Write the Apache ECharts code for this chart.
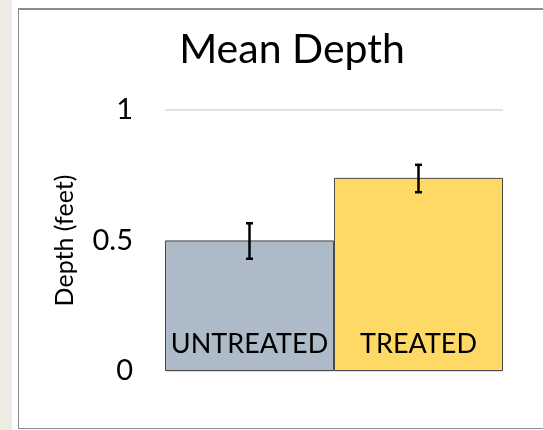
<!DOCTYPE html>
<html>
<head>
<meta charset="utf-8">
<script src="https://cdn.jsdelivr.net/npm/echarts@6/dist/echarts.min.js"></script>
<style>
  html, body { margin: 0; padding: 0; background: #fff; overflow: hidden; width: 543px; height: 430px; }
  .strip { position: absolute; left: 0; top: 0; width: 12px; height: 430px; background: #eeebe4; }
  .frame { position: absolute; left: 18px; top: 8px; width: 530px; height: 418px; border: 1px solid #8c8c8c; border-top-width: 2px; border-right: none; }
  #chart { position: absolute; left: 0; top: 0; width: 543px; height: 430px; }
</style>
</head>
<body>
<div class="strip"></div>
<div class="frame"></div>
<div id="chart"></div>
<script>
// 数据
const categories = ['UNTREATED', 'TREATED']
const meanDepth = [0.5, 0.74]
const errLow = [0.43, 0.685]
const errHigh = [0.566, 0.79]
const yTicks = [0, 0.5, 1]

const barColors = ['#adbbc9', '#ffd966']
const font = 'Lato'

const chart = echarts.init(document.getElementById('chart'))

const option = {
  animation: false,
  title: {
    text: 'Mean Depth',
    left: 287,
    top: 24,
    textAlign: 'center',
    textStyle: {
      fontFamily: font,
      fontSize: 41,
      fontWeight: 'normal',
      color: '#000'
    }
  },
  grid: {
    left: 165,
    right: 40,
    top: 110,
    bottom: 59
  },
  xAxis: {
    type: 'category',
    data: categories,
    axisLine: { show: false },
    axisTick: { show: false },
    axisLabel: { show: false }
  },
  yAxis: {
    type: 'value',
    min: yTicks[0],
    max: yTicks[yTicks.length - 1],
    interval: 0.5,
    name: 'Depth (feet)',
    nameLocation: 'middle',
    nameGap: 88,
    nameTextStyle: {
      fontFamily: font,
      fontSize: 25,
      color: '#000'
    },
    axisLine: { show: false },
    axisTick: { show: false },
    axisLabel: {
      margin: 32,
      fontFamily: font,
      fontSize: 29,
      color: '#000'
    },
    splitLine: {
      lineStyle: { color: '#e0e0e0', width: 2 }
    }
  },
  series: [
    {
      type: 'bar',
      data: meanDepth.map((v, i) => ({
        value: v,
        itemStyle: { color: barColors[i] }
      })),
      barWidth: '100%',
      barCategoryGap: 0,
      itemStyle: {
        borderColor: '#4a4a4a',
        borderWidth: 1
      },
      label: {
        show: true,
        position: 'insideBottom',
        distance: 13,
        formatter: '{b}',
        fontFamily: font,
        fontSize: 27,
        color: '#000'
      }
    },
    {
      // 误差线
      type: 'custom',
      data: categories.map((c, i) => [i, errLow[i], errHigh[i]]),
      z: 10,
      renderItem(params, api) {
        const lo = api.coord([api.value(0), api.value(1)])
        const hi = api.coord([api.value(0), api.value(2)])
        const w = 3.5
        const style = { stroke: '#000', lineWidth: 2.5 }
        return {
          type: 'group',
          children: [
            { type: 'line', shape: { x1: hi[0], y1: hi[1], x2: lo[0], y2: lo[1] }, style },
            { type: 'line', shape: { x1: hi[0] - w, y1: hi[1], x2: hi[0] + w, y2: hi[1] }, style },
            { type: 'line', shape: { x1: lo[0] - w, y1: lo[1], x2: lo[0] + w, y2: lo[1] }, style }
          ]
        }
      }
    }
  ]
}

chart.setOption(option)
</script>
</body>
</html>
